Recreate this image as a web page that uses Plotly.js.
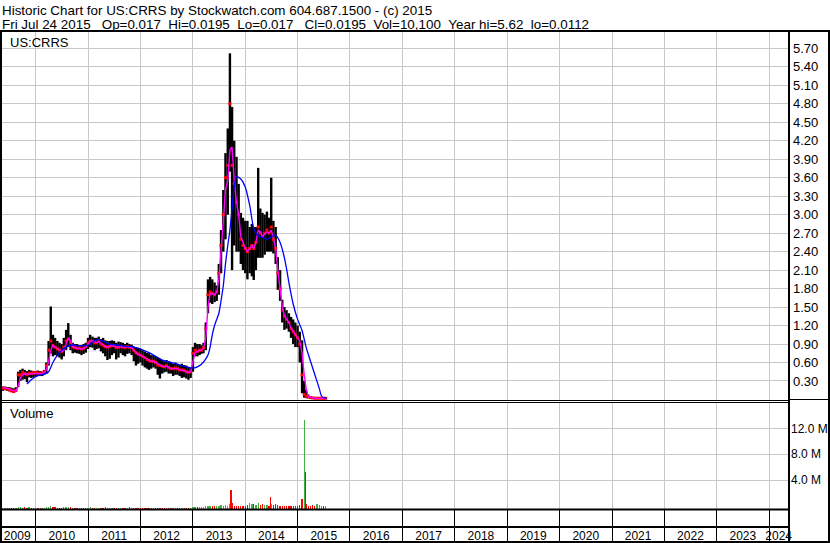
<!DOCTYPE html>
<html><head><meta charset="utf-8">
<script src="https://cdn.plot.ly/plotly-3.0.1.min.js"></script>
<style>html,body{margin:0;padding:0;background:#fff}#chart{width:830px;height:543px}</style>
</head><body><div id="chart"></div>
<script>
// ---------- DATA ----------
const dates = [
'2009-05-16','2009-06-01','2009-06-16','2009-07-01','2009-07-16','2009-08-01','2009-08-16','2009-09-01','2009-09-16','2009-10-01','2009-10-16','2009-11-01','2009-11-16','2009-12-01','2009-12-16',
'2010-01-01','2010-01-16','2010-02-01','2010-02-16','2010-03-01','2010-03-16','2010-04-01','2010-04-16','2010-05-01','2010-05-16','2010-06-01','2010-06-16','2010-07-01','2010-07-16','2010-08-01','2010-08-16','2010-09-01','2010-09-16','2010-10-01','2010-10-16','2010-11-01','2010-11-16','2010-12-01','2010-12-16',
'2011-01-01','2011-01-16','2011-02-01','2011-02-16','2011-03-01','2011-03-16','2011-04-01','2011-04-16','2011-05-01','2011-05-16','2011-06-01','2011-06-16','2011-07-01','2011-07-16','2011-08-01','2011-08-16','2011-09-01','2011-09-16','2011-10-01','2011-10-16','2011-11-01','2011-11-16','2011-12-01','2011-12-16',
'2012-01-01','2012-01-16','2012-02-01','2012-02-16','2012-03-01','2012-03-16','2012-04-01','2012-04-16','2012-05-01','2012-05-16','2012-06-01','2012-06-16','2012-07-01','2012-07-16','2012-08-01','2012-08-16','2012-09-01','2012-09-16','2012-10-01','2012-10-16','2012-11-01','2012-11-16','2012-12-01','2012-12-16',
'2013-01-01','2013-01-16','2013-02-01','2013-02-16','2013-03-01','2013-03-16','2013-04-01','2013-04-16','2013-05-01','2013-05-16','2013-06-01','2013-06-16','2013-07-01','2013-07-16','2013-08-01','2013-08-16','2013-09-01','2013-09-16','2013-10-01','2013-10-16','2013-11-01','2013-11-16','2013-12-01','2013-12-16',
'2014-01-01','2014-01-16','2014-02-01','2014-02-16','2014-03-01','2014-03-16','2014-04-01','2014-04-16','2014-05-01','2014-05-16','2014-06-01','2014-06-16','2014-07-01','2014-07-16','2014-08-01','2014-08-16','2014-09-01','2014-09-16','2014-10-01','2014-10-16','2014-11-01','2014-11-16','2014-12-01','2014-12-16',
'2015-01-01','2015-01-16','2015-02-01','2015-02-16','2015-03-01','2015-03-16','2015-04-01','2015-04-16','2015-05-01','2015-05-16','2015-06-01','2015-06-16','2015-07-01','2015-07-16'];

const hi = [
0.21,0.21,0.20,0.20,0.19,0.18,0.20,0.45,0.48,0.50,0.48,0.46,0.48,0.47,0.46,
0.46,0.47,0.46,0.45,0.48,0.60,0.95,1.51,1.05,1.00,0.95,0.92,0.90,1.00,1.13,1.24,1.05,0.92,0.90,0.90,0.88,0.88,0.90,0.92,
1.00,1.05,1.02,1.00,1.00,1.02,0.98,1.00,0.96,0.95,0.95,0.96,0.95,0.92,0.94,0.93,0.92,0.90,0.92,0.90,0.89,0.86,0.85,0.84,
0.82,0.80,0.78,0.76,0.75,0.72,0.72,0.70,0.68,0.66,0.64,0.62,0.64,0.62,0.60,0.58,0.60,0.58,0.56,0.58,0.56,0.55,0.53,0.52,
0.85,0.92,0.90,0.90,0.88,0.92,1.25,1.95,1.99,1.95,1.90,1.85,2.20,2.75,3.40,4.00,4.40,5.62,4.75,4.20,3.94,3.50,3.03,2.95,
2.90,2.90,2.80,2.85,2.80,2.80,3.76,3.10,3.03,3.00,3.05,2.95,3.60,2.90,2.80,2.31,2.10,1.62,1.50,1.45,1.40,1.34,1.30,1.25,
1.20,1.10,0.96,0.30,0.15,0.08,0.05,0.04,0.035,0.03,0.03,0.03,0.025,0.025];

const lo = [
0.14,0.15,0.14,0.13,0.12,0.11,0.12,0.20,0.30,0.32,0.33,0.28,0.36,0.35,0.36,
0.38,0.38,0.38,0.38,0.40,0.42,0.55,0.75,0.70,0.72,0.70,0.68,0.65,0.70,0.80,0.85,0.80,0.75,0.76,0.75,0.74,0.72,0.74,0.76,
0.82,0.85,0.84,0.80,0.82,0.83,0.78,0.75,0.70,0.64,0.66,0.72,0.75,0.65,0.68,0.75,0.72,0.70,0.74,0.75,0.72,0.62,0.55,0.58,
0.60,0.55,0.52,0.50,0.48,0.50,0.52,0.50,0.40,0.34,0.42,0.44,0.45,0.42,0.42,0.38,0.40,0.40,0.38,0.35,0.36,0.34,0.32,0.35,
0.45,0.70,0.70,0.72,0.74,0.75,0.80,1.40,1.57,1.55,1.58,1.60,1.70,2.05,2.40,2.60,3.00,3.70,2.10,2.50,2.40,2.40,2.20,2.10,
2.05,1.95,2.05,2.00,1.94,2.10,2.30,2.30,2.30,2.35,2.40,2.40,2.40,2.37,2.20,1.78,1.60,1.25,1.13,1.15,1.10,1.00,0.90,0.85,
0.85,0.60,0.10,0.03,0.02,0.02,0.01,0.01,0.01,0.01,0.01,0.012,0.011,0.012];

const closeP = [
0.18,0.18,0.17,0.16,0.14,0.13,0.15,0.40,0.40,0.44,0.42,0.40,0.43,0.42,0.43,
0.44,0.43,0.42,0.43,0.45,0.55,0.80,0.95,0.88,0.85,0.82,0.80,0.78,0.85,0.95,0.98,0.92,0.85,0.84,0.83,0.84,0.82,0.83,0.86,
0.92,0.95,0.94,0.92,0.92,0.95,0.90,0.88,0.86,0.85,0.86,0.88,0.87,0.84,0.85,0.86,0.85,0.84,0.86,0.85,0.84,0.80,0.76,0.74,
0.72,0.70,0.68,0.65,0.63,0.62,0.62,0.60,0.56,0.55,0.54,0.53,0.55,0.52,0.50,0.50,0.51,0.50,0.48,0.48,0.47,0.45,0.44,0.45,
0.75,0.80,0.78,0.80,0.80,0.84,1.15,1.70,1.75,1.72,1.70,1.75,2.05,2.50,3.00,3.60,3.80,4.80,3.80,3.50,3.20,3.00,2.60,2.50,
2.45,2.40,2.45,2.50,2.45,2.55,2.80,2.70,2.65,2.70,2.75,2.70,2.80,2.60,2.45,2.05,1.80,1.45,1.35,1.30,1.25,1.15,1.10,1.05,
1.00,0.90,0.40,0.08,0.05,0.04,0.03,0.025,0.02,0.02,0.02,0.02,0.018,0.0195];

const maShort = [
0.19,0.19,0.18,0.17,0.15,0.14,0.14,0.22,0.35,0.40,0.42,0.41,0.41,0.42,0.42,
0.43,0.43,0.42,0.42,0.44,0.48,0.62,0.80,0.88,0.85,0.82,0.80,0.78,0.80,0.90,1.00,0.95,0.86,0.84,0.83,0.83,0.82,0.83,0.85,
0.90,0.95,0.95,0.93,0.92,0.94,0.91,0.88,0.86,0.85,0.86,0.88,0.87,0.85,0.85,0.86,0.86,0.85,0.86,0.85,0.84,0.80,0.76,0.73,
0.72,0.70,0.68,0.65,0.63,0.62,0.62,0.60,0.57,0.55,0.54,0.53,0.54,0.52,0.50,0.50,0.50,0.50,0.48,0.48,0.47,0.45,0.44,0.45,
0.60,0.76,0.78,0.80,0.80,0.83,1.00,1.50,1.72,1.72,1.70,1.74,1.95,2.35,2.90,3.40,3.55,4.05,4.10,3.55,3.20,3.00,2.65,2.55,
2.45,2.40,2.45,2.50,2.45,2.55,2.75,2.72,2.65,2.68,2.72,2.70,2.75,2.62,2.45,2.10,1.80,1.50,1.36,1.30,1.25,1.16,1.10,1.05,
1.00,0.95,0.75,0.40,0.18,0.04,0.03,0.025,0.02,0.02,0.02,0.02,0.018,0.0195];

const maLongDates = ['2009-11-01','2009-12-01','2010-01-01','2010-02-01','2010-03-01','2010-04-01','2010-05-01','2010-06-01','2010-07-01','2010-08-01','2010-09-01','2010-10-01','2010-11-01','2010-12-01',
'2011-01-01','2011-02-01','2011-03-01','2011-04-01','2011-05-01','2011-06-01','2011-07-01','2011-08-01','2011-09-01','2011-10-01','2011-11-01','2011-12-01',
'2012-01-01','2012-02-01','2012-03-01','2012-04-01','2012-05-01','2012-06-01','2012-07-01','2012-08-01','2012-09-01','2012-10-01','2012-11-01','2012-12-01',
'2013-01-01','2013-02-01','2013-03-01','2013-04-01','2013-04-16','2013-05-01','2013-05-16','2013-06-01','2013-06-16','2013-07-01','2013-07-16','2013-08-01','2013-08-16','2013-09-01','2013-09-16','2013-10-01','2013-10-16','2013-11-01','2013-12-01',
'2014-01-01','2014-02-01','2014-03-01','2014-04-01','2014-05-01','2014-06-01','2014-07-01','2014-08-01','2014-09-01','2014-10-01','2014-10-16','2014-11-01','2014-12-01',
'2015-01-01','2015-02-01','2015-03-01','2015-04-01','2015-05-01','2015-06-01','2015-06-16','2015-07-01','2015-07-24'];
const maLong = [0.25,0.32,0.37,0.40,0.41,0.45,0.60,0.72,0.80,0.85,0.88,0.88,0.87,0.87,
0.88,0.93,0.97,0.96,0.93,0.90,0.89,0.88,0.87,0.86,0.86,0.84,
0.82,0.79,0.76,0.72,0.68,0.64,0.62,0.60,0.58,0.56,0.54,0.52,
0.51,0.53,0.57,0.66,0.72,0.85,1.05,1.20,1.30,1.40,1.60,1.85,2.20,2.50,2.75,3.10,3.45,3.62,3.58,
3.45,3.15,2.78,2.66,2.63,2.60,2.64,2.67,2.55,2.30,2.12,1.90,1.55,
1.30,1.12,0.85,0.62,0.40,0.18,0.06,0.03,0.02];

// volume in millions of shares (same dates as price)
const volM = [
0.2,0.15,0.2,0.15,0.2,0.15,0.2,0.3,0.25,0.2,0.3,0.2,0.25,0.2,0.2,
0.2,0.2,0.15,0.2,0.2,0.3,0.35,0.4,0.3,0.25,0.2,0.2,0.2,0.25,0.3,0.35,0.25,0.2,0.2,0.15,0.2,0.2,0.2,0.2,
0.2,0.25,0.2,0.2,0.2,0.2,0.15,0.2,0.25,0.2,0.2,0.2,0.2,0.2,0.2,0.15,0.2,0.2,0.2,0.25,0.2,0.2,0.2,0.2,
0.2,0.2,0.15,0.2,0.2,0.2,0.2,0.15,0.2,0.2,0.2,0.2,0.2,0.15,0.2,0.2,0.2,0.2,0.2,0.2,0.2,0.2,0.2,0.2,
0.3,0.3,0.25,0.3,0.3,0.3,0.4,0.5,0.45,0.4,0.4,0.45,0.5,0.6,0.5,0.6,0.5,0.8,1.0,0.5,0.4,0.5,0.4,0.5,
0.5,0.6,0.9,0.7,0.8,0.6,0.9,0.6,0.7,0.6,0.6,0.5,0.8,0.6,0.7,0.6,0.5,0.5,0.4,0.4,0.5,0.4,0.4,0.5,
0.5,0.6,1.5,0.9,0.7,0.5,0.4,0.6,0.5,0.8,0.6,0.5,0.4,0.4];
const spikeDates = ['2013-09-23','2014-06-24','2015-02-20','2015-02-26'];
const spikeVolM  = [2.94,1.9,13.8,5.8];
const spikeUp    = [false,false,true,false];

const priceTickVals = [0.30,0.60,0.90,1.20,1.50,1.80,2.10,2.40,2.70,3.00,3.30,3.60,3.90,4.20,4.50,4.80,5.10,5.40,5.70];
const volTickVals = [4,8,12];
const volTickText = ['4.0 M','8.0 M','12.0 M'];
const yearStarts = ['2010-01-01','2011-01-01','2012-01-01','2013-01-01','2014-01-01','2015-01-01','2016-01-01','2017-01-01','2018-01-01','2019-01-01','2020-01-01','2021-01-01','2022-01-01','2023-01-01','2024-01-01'];
const yearLabelAt = ['2009-08-25','2010-07-02','2011-07-02','2012-07-02','2013-07-02','2014-07-02','2015-07-02','2016-07-02','2017-07-02','2018-07-02','2019-07-02','2020-07-02','2021-07-02','2022-07-02','2023-07-02','2024-03-08'];
const yearLabels = ['2009','2010','2011','2012','2013','2014','2015','2016','2017','2018','2019','2020','2021','2022','2023','2024'];

const NB = '\u00a0';
const headerLine1 = 'Historic Chart for US:CRRS by Stockwatch.com 604.687.1500 - (c) 2015';
const headerLine2 = 'Fri Jul 24 2015' + NB+NB+NB + 'Op=0.017' + NB+NB + 'Hi=0.0195' + NB+NB + 'Lo=0.017' + NB+NB+NB +
                    'Cl=0.0195' + NB+NB + 'Vol=10,100' + NB+NB + 'Year hi=5.62' + NB+NB + 'lo=0.0112';

// ---------- LAYOUT HELPERS ----------
const W = 830, H = 543;
const X = p => p / W, Y = p => 1 - p / H;
const FONT = 'Liberation Sans, Arial, sans-serif';
const GRID = '#c8c8c8';

const barX = [], barY = [];
dates.forEach((d, i) => { barX.push(d, d, null); barY.push(lo[i], hi[i], null); });
const volColors = closeP.map((c, i) => (i === 0 || c >= closeP[i - 1]) ? '#44b044' : '#ff0000');

const traces = [
  {type:'scatter', mode:'lines', x:barX, y:barY, line:{color:'#000', width:2.4}, hoverinfo:'skip', xaxis:'x', yaxis:'y'},
  {type:'scatter', mode:'markers', x:dates, y:closeP, marker:{symbol:'square', size:3, color:'#ff0000', line:{width:0}}, hoverinfo:'skip', xaxis:'x', yaxis:'y'},
  {type:'scatter', mode:'lines', x:dates, y:maShort, line:{color:'#ff00ff', width:1.4}, hoverinfo:'skip', xaxis:'x', yaxis:'y'},
  {type:'scatter', mode:'lines', x:maLongDates, y:maLong, line:{color:'#0000ff', width:1.3, shape:'spline', smoothing:0.6}, hoverinfo:'skip', xaxis:'x', yaxis:'y'},
  {type:'bar', x:dates, y:volM, base:-0.48, width:9*86400000, marker:{color:volColors, line:{width:0}}, hoverinfo:'skip', xaxis:'x', yaxis:'y2'},
  {type:'bar', x:spikeDates, y:spikeVolM, base:-0.48, width:9*86400000, marker:{color:spikeUp.map(u => u ? '#44b044' : '#ff0000'), line:{width:0}}, hoverinfo:'skip', xaxis:'x', yaxis:'y2'},
  {type:'scatter', mode:'markers', x:['2015-01-01'], y:[null], xaxis:'x2', yaxis:'y2', hoverinfo:'skip', showlegend:false}
];

const xr = ['2009-04-27', '2024-05-19'];
const rects = [
  [0,30,830,32],      // top rule
  [0,30,2,543],       // left border
  [788,30,790,543],   // right panel separator
  [828,30,830,543],   // right border
  [0,400,789,401],    // price bottom (double)
  [0,402,789,403],
  [790,399,828,400],  // right column rule
  [0,508.5,789,510.5],// volume bottom
  [0,526,789,528],    // band separator
  [0,541,830,543]     // bottom border
];

const layout = {
  width: W, height: H,
  margin: {l:0, r:0, t:0, b:0, pad:0},
  paper_bgcolor: '#fff', plot_bgcolor: '#fff',
  showlegend: false,
  bargap: 0,
  font: {family: FONT, size: 13, color: '#000'},
  xaxis: {domain:[0, X(789)], range:xr, type:'date', anchor:'y2',
          tickmode:'array', tickvals:yearStarts, showticklabels:false,
          ticks:'outside', ticklen:32, tickwidth:1, tickcolor:'#000',
          showgrid:true, gridcolor:GRID, gridwidth:1, zeroline:false, showline:false, fixedrange:true},
  xaxis2: {overlaying:'x', range:xr, type:'date', anchor:'free', position:Y(527), side:'bottom',
          tickmode:'array', tickvals:yearLabelAt, ticktext:yearLabels, ticks:'',
          showgrid:false, zeroline:false, showline:false, tickfont:{family:FONT, size:12, color:'#000'}},
  yaxis: {domain:[Y(401), Y(32)], range:[-0.025, 5.966], anchor:'x', side:'right',
          tickmode:'array', tickvals:priceTickVals, ticktext:priceTickVals.map(v => v.toFixed(2)),
          ticks:'', ticklabelstandoff:3, showgrid:true, gridcolor:GRID, zeroline:false, showline:false,
          tickfont:{family:FONT, size:13, color:'#000'}},
  yaxis2: {domain:[Y(509), Y(403)], range:[-0.48, 15.92], anchor:'x', side:'right',
          tickmode:'array', tickvals:volTickVals, ticktext:volTickText,
          ticks:'', ticklabelstandoff:1, showgrid:true, gridcolor:GRID, zeroline:false, showline:false,
          tickfont:{family:FONT, size:12, color:'#000'}},
  shapes: rects.map(r => ({type:'rect', xref:'paper', yref:'paper', x0:X(r[0]), x1:X(r[2]), y0:Y(r[3]), y1:Y(r[1]),
                           fillcolor:'#000', line:{width:0}, layer:'above'})),
  annotations: [
    {text:headerLine1, xref:'paper', yref:'paper', x:X(0), y:Y(10.5), xanchor:'left', yanchor:'middle', showarrow:false, font:{family:FONT, size:13.4, color:'#000'}},
    {text:headerLine2, xref:'paper', yref:'paper', x:X(0), y:Y(24), xanchor:'left', yanchor:'middle', showarrow:false, font:{family:FONT, size:13.4, color:'#000'}},
    {text:'US:CRRS', xref:'paper', yref:'paper', x:X(7.5), y:Y(42), xanchor:'left', yanchor:'middle', showarrow:false, font:{family:FONT, size:13, color:'#000'}},
    {text:'Volume', xref:'paper', yref:'paper', x:X(7.5), y:Y(413.5), xanchor:'left', yanchor:'middle', showarrow:false, font:{family:FONT, size:13, color:'#000'}}
  ]
};

Plotly.newPlot('chart', traces, layout, {staticPlot:true, displayModeBar:false});
</script>
</body></html>
